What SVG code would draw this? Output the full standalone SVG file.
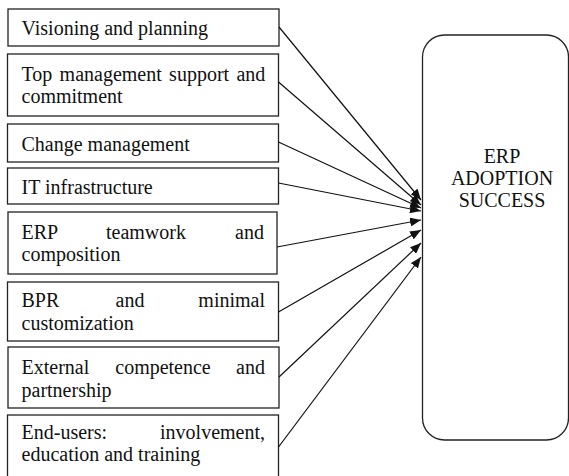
<svg xmlns="http://www.w3.org/2000/svg" width="569" height="476" viewBox="0 0 569 476">
<style>
.box{fill:#fff;stroke:#222;stroke-width:1.3}
.t{font-family:"Liberation Serif","Times New Roman",serif;font-size:20px;fill:#111}
.e{text-anchor:end}
.m{text-anchor:middle}
.c{fill:none;stroke:#111;stroke-width:1.2}
</style>
<defs>
<marker id="ah" markerUnits="userSpaceOnUse" markerWidth="12" markerHeight="9" refX="11" refY="4.5" orient="auto">
<path d="M0,0 L11,4.5 L0,9 z" fill="#111"/>
</marker>
</defs>
<rect width="569" height="476" fill="#fff"/>
<g id="n1"><rect class="box" x="8" y="9" width="271" height="37"/><text class="t" x="21.5" y="35">Visioning and planning</text></g>
<g id="n2"><rect class="box" x="7.5" y="54" width="271" height="62"/><text class="t" x="21.5" y="81" word-spacing="2.3">Top management support and</text><text class="t" x="21.5" y="103">commitment</text></g>
<g id="n3"><rect class="box" x="7.5" y="124" width="271" height="38"/><text class="t" x="21.5" y="150.5">Change management</text></g>
<g id="n4"><rect class="box" x="7.5" y="168" width="271" height="36"/><text class="t" x="21.5" y="194">IT infrastructure</text></g>
<g id="n5"><rect class="box" x="8" y="212" width="269" height="62"/><text class="t" x="21.5" y="238.5">ERP</text><text class="t m" x="146" y="238.5">teamwork</text><text class="t e" x="264" y="238.5">and</text><text class="t" x="21.5" y="261">composition</text></g>
<g id="n6"><rect class="box" x="7.5" y="282" width="271" height="59"/><text class="t" x="21.5" y="307">BPR</text><text class="t m" x="130" y="307">and</text><text class="t e" x="265" y="307">minimal</text><text class="t" x="21.5" y="330">customization</text></g>
<g id="n7"><rect class="box" x="8" y="347" width="271" height="61"/><text class="t" x="21.5" y="373.5">External</text><text class="t m" x="163" y="373.5">competence</text><text class="t e" x="265" y="373.5">and</text><text class="t" x="21.5" y="396.5">partnership</text></g>
<g id="n8"><rect class="box" x="7.5" y="415" width="271" height="63"/><text class="t" x="21.5" y="439">End-users:</text><text class="t e" x="265" y="439">involvement,</text><text class="t" x="21.5" y="461">education and training</text></g>
<g id="target"><rect class="box" x="422.5" y="35" width="146" height="405" rx="22" ry="22"/><text class="t m" x="502" y="163">ERP</text><text class="t m" x="502" y="185">ADOPTION</text><text class="t m" x="502" y="207">SUCCESS</text></g>
<g id="connectors">
<line class="c" x1="279" y1="27" x2="421" y2="200" marker-end="url(#ah)"/>
<line class="c" x1="278.5" y1="82" x2="421" y2="205" marker-end="url(#ah)"/>
<line class="c" x1="278.5" y1="142" x2="421" y2="208" marker-end="url(#ah)"/>
<line class="c" x1="278.5" y1="183" x2="421" y2="211" marker-end="url(#ah)"/>
<line class="c" x1="277" y1="247" x2="421" y2="220" marker-end="url(#ah)"/>
<line class="c" x1="278.5" y1="312" x2="421" y2="230" marker-end="url(#ah)"/>
<line class="c" x1="279" y1="377" x2="421" y2="243" marker-end="url(#ah)"/>
<line class="c" x1="278.5" y1="447" x2="421" y2="257" marker-end="url(#ah)"/>
</g>
</svg>
